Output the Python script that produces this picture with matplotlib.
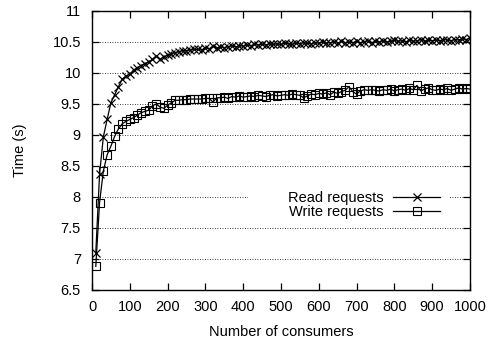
import numpy as np
import matplotlib
matplotlib.use("Agg")
import matplotlib.pyplot as plt
from matplotlib.patches import Rectangle

# Datos (cada 10 consumidores)
consumers = list(range(10, 1001, 10))

read_times = [
    7.10, 8.37, 8.97, 9.25, 9.52, 9.65, 9.78, 9.90, 9.95, 9.98,
    10.05, 10.08, 10.12, 10.15, 10.18, 10.22, 10.27, 10.22, 10.26, 10.29,
    10.31, 10.33, 10.34, 10.36, 10.36, 10.37, 10.38, 10.38, 10.37, 10.41,
    10.39, 10.43, 10.40, 10.42, 10.41, 10.42, 10.44, 10.42, 10.44, 10.43,
    10.45, 10.44, 10.46, 10.45, 10.46, 10.45, 10.47, 10.46, 10.47, 10.46,
    10.48, 10.47, 10.46, 10.48, 10.47, 10.49, 10.48, 10.47, 10.49, 10.48,
    10.50, 10.48, 10.49, 10.50, 10.48, 10.51, 10.49, 10.50, 10.49, 10.51,
    10.49, 10.50, 10.52, 10.49, 10.51, 10.50, 10.52, 10.50, 10.51, 10.53,
    10.51, 10.52, 10.50, 10.53, 10.51, 10.52, 10.54, 10.51, 10.53, 10.52,
    10.53, 10.52, 10.54, 10.53, 10.52, 10.54, 10.53, 10.55, 10.54, 10.56,
]

write_times = [
    6.88, 7.91, 8.42, 8.68, 8.82, 8.98, 9.10, 9.18, 9.22, 9.25,
    9.28, 9.32, 9.36, 9.38, 9.40, 9.47, 9.50, 9.45, 9.43, 9.48,
    9.52, 9.56, 9.56, 9.57, 9.57, 9.58, 9.58, 9.58, 9.58, 9.59,
    9.59, 9.53, 9.60, 9.60, 9.61, 9.59, 9.62, 9.61, 9.63, 9.61,
    9.62, 9.63, 9.62, 9.64, 9.63, 9.62, 9.64, 9.65, 9.63, 9.64,
    9.65, 9.64, 9.66, 9.65, 9.64, 9.60, 9.63, 9.66, 9.65, 9.67,
    9.66, 9.68, 9.65, 9.69, 9.67, 9.70, 9.72, 9.78, 9.70, 9.66,
    9.71, 9.73, 9.72, 9.73, 9.72, 9.71, 9.73, 9.72, 9.74, 9.71,
    9.73, 9.74, 9.72, 9.75, 9.73, 9.80, 9.71, 9.74, 9.76, 9.73,
    9.72, 9.74, 9.73, 9.75, 9.72, 9.74, 9.76, 9.74, 9.75, 9.74,
]

y_ticks = [6.5, 7, 7.5, 8, 8.5, 9, 9.5, 10, 10.5, 11]
x_ticks = list(range(0, 1001, 100))

plt.rcParams['font.family'] = ['Liberation Sans', 'DejaVu Sans']
fs = 10.5

fig = plt.figure(figsize=(4.91, 3.41), dpi=100)
ax = fig.add_axes([0.1874, 0.1496, 0.7696, 0.8182])

ax.plot(consumers, read_times, color='black', lw=0.9, marker='x',
        markersize=6, markeredgewidth=0.9, label='Read requests', zorder=3)
ax.plot(consumers, write_times, color='black', lw=0.9, marker='s',
        markersize=6, markeredgewidth=0.8, markerfacecolor='none',
        label='Write requests', zorder=3)

ax.set_xlim(0, 1000)
ax.set_ylim(6.5, 11)
ax.set_xticks(x_ticks)
ax.set_yticks(y_ticks)
ax.set_yticklabels([('%g' % v) for v in y_ticks])

# Rejilla horizontal punteada (estilo gnuplot)
ax.yaxis.grid(True, linestyle=(0, (1, 2)), color='black', lw=0.6)
ax.set_axisbelow(True)

# Caja blanca de la leyenda que tapa la rejilla
ax.add_patch(Rectangle((0.413, 0.25), 0.534, 0.108, transform=ax.transAxes,
                       facecolor='white', edgecolor='none', zorder=1))

ax.tick_params(direction='in', length=5, width=0.9, top=True, right=True,
               labelsize=fs)
ax.tick_params(axis='y', pad=8)
ax.tick_params(axis='x', pad=7)
for s in ax.spines.values():
    s.set_linewidth(1.0)

ax.set_xlabel('Number of consumers', fontsize=fs, labelpad=8)
ax.set_ylabel('Time (s)', fontsize=fs, labelpad=18)

leg = ax.legend(loc='center right', bbox_to_anchor=(0.921, 0.306),
                markerfirst=False, numpoints=1, handlelength=3.2,
                handletextpad=0.7, labelspacing=0.0, borderpad=0.0,
                borderaxespad=0.0, frameon=False, fontsize=fs)
leg.set_zorder(4)

fig.savefig('out.png', dpi=100)
